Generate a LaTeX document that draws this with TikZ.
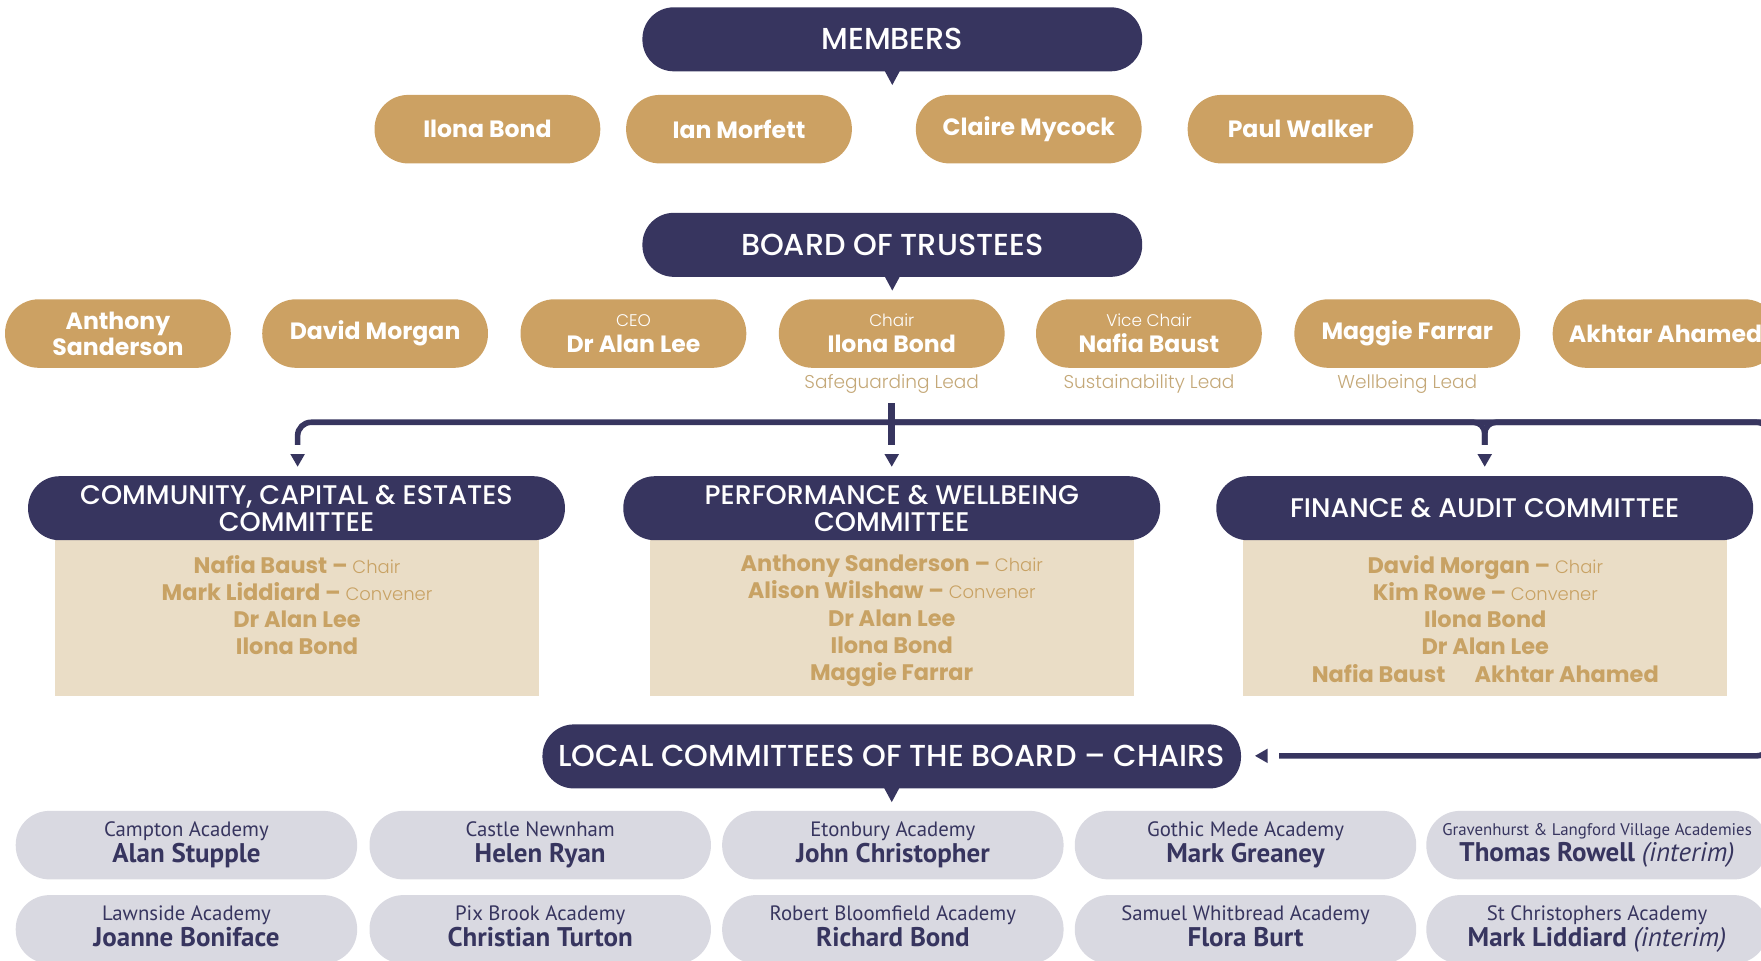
\documentclass[tikz,border=0pt]{standalone}
\usepackage{fontspec}
\setmainfont{Poppins}
\newfontfamily\lightfont{Poppins Light}
\newfontfamily\medfont{Poppins Medium}
\newfontfamily\narrowfont{PT Sans}
\usetikzlibrary{shapes.geometric}
\definecolor{navy}{RGB}{55,53,95}
\definecolor{gold}{RGB}{204,161,99}
\definecolor{beige}{RGB}{234,221,198}
\definecolor{greypill}{RGB}{217,217,225}
\definecolor{goldtext}{RGB}{200,162,100}
\definecolor{leadtext}{RGB}{196,168,120}
\newcommand{\role}[1]{{\mdseries\lightfont\fontsize{15}{23}\selectfont #1}}
\newcommand{\post}[1]{{\mdseries\lightfont\fontsize{16}{24.3}\selectfont #1}}
\newcommand{\chairname}[1]{{\bfseries\fontsize{24}{23}\selectfont #1\vphantom{()}}}
\newcommand{\interim}{{\mdseries\itshape (interim)}}

\begin{document}
\begin{tikzpicture}[x=1pt,y=-1pt,
  head_style/.style={fill=navy, text=white, rounded corners=28pt, minimum width=445pt, minimum height=57pt, inner sep=0pt, align=center, font=\medfont\fontsize{27}{24}\selectfont},
  name_style/.style={fill=gold, text=white, rounded corners=30pt, minimum width=201pt, minimum height=61pt, inner sep=0pt, align=center, font=\bfseries\fontsize{21}{23}\selectfont},
  role_style/.style={text=leadtext, font=\lightfont\fontsize{16.5}{16}\selectfont},
  box_style/.style={fill=beige, minimum width=431pt, minimum height=150pt, inner sep=0pt},
  list_style/.style={anchor=north, text=goldtext, align=center, inner sep=0pt, font=\bfseries\fontsize{20}{24.3}\selectfont},
  local_style/.style={fill=greypill, text=navy, rounded corners=30pt, minimum width=304pt, minimum height=61pt, inner sep=0pt, align=center, font=\narrowfont\fontsize{18.5}{23}\selectfont},
  arrow_style/.style={regular polygon, regular polygon sides=3, fill=navy, inner sep=0pt, minimum size=15pt},
  edge_style/.style={draw=navy, line width=5pt}]
  \useasboundingbox (0,0) rectangle (1568,855);
  \node[head_style] (mem) at (794.5,35) {MEMBERS};
  \node[name_style] (m1) at (434,115) {Ilona Bond};
  \node[name_style] (m2) at (658,115) {Ian Morfett};
  \node[name_style] (m3) at (916,115) {Claire Mycock};
  \node[name_style] (m4) at (1158,115) {Paul Walker};
  \node[head_style] (bot) at (794.5,218) {BOARD OF TRUSTEES};
  \node[name_style] (t1) at (105,297) {Anthony\\Sanderson};
  \node[name_style] (t2) at (334,297) {David Morgan};
  \node[name_style] (t3) at (564,297) {\role{CEO}\\Dr Alan Lee};
  \node[name_style] (t4) at (794,297) {\role{Chair}\\Ilona Bond};
  \node[name_style] (t5) at (1023,297) {\role{Vice Chair}\\Nafia Baust};
  \node[name_style] (t6) at (1253,297) {Maggie Farrar};
  \node[name_style] (t7) at (1483,297) {Akhtar Ahamed};
  \node[role_style] (r4) at (794,342) {Safeguarding Lead};
  \node[role_style] (r5) at (1023,342) {Sustainability Lead};
  \node[role_style] (r6) at (1253,342) {Wellbeing Lead};
  \node[box_style] (b1) at (264.5,545) {};
  \node[box_style] (b2) at (794,545) {};
  \node[box_style] (b3) at (1322.5,545) {};
  \node[head_style, minimum width=478pt, font=\medfont\fontsize{24}{24}\selectfont] (c1) at (264,452.5) {COMMUNITY, CAPITAL \& ESTATES\\COMMITTEE};
  \node[head_style, minimum width=478pt, font=\medfont\fontsize{24}{24}\selectfont] (c2) at (794,452.5) {PERFORMANCE \& WELLBEING\\COMMITTEE};
  \node[head_style, minimum width=478pt, font=\medfont\fontsize{24}{24}\selectfont] (c3) at (1322,452.5) {FINANCE \& AUDIT COMMITTEE};
  \node[list_style] (l1) at (264.5,494) {Nafia Baust – \post{Chair}\\Mark Liddiard – \post{Convener}\\Dr Alan Lee\\Ilona Bond};
  \node[list_style] (l2) at (794,494) {Anthony Sanderson – \post{Chair}\\Alison Wilshaw – \post{Convener}\\Dr Alan Lee\\Ilona Bond\\Maggie Farrar};
  \node[list_style] (l3) at (1322.5,494) {David Morgan – \post{Chair}\\Kim Rowe – \post{Convener}\\Ilona Bond\\Dr Alan Lee\\Nafia Baust\hspace{26pt}Akhtar Ahamed};
  \node[head_style, minimum width=622pt] (loc) at (794,673.5) {LOCAL COMMITTEES OF THE BOARD – CHAIRS};
  \node[local_style] (s1) at (166,752.5) {Campton Academy\\\chairname{Alan Stupple}};
  \node[local_style] (s2) at (481,752.5) {Castle Newnham\\\chairname{Helen Ryan}};
  \node[local_style] (s3) at (795,752.5) {Etonbury Academy\\\chairname{John Christopher}};
  \node[local_style] (s4) at (1109,752.5) {Gothic Mede Academy\\\chairname{Mark Greaney}};
  \node[local_style] (s5) at (1422,752.5) {{\fontsize{15}{23}\selectfont Gravenhurst \& Langford Village Academies}\\\chairname{Thomas Rowell \interim}};
  \node[local_style] (s6) at (166,827.5) {Lawnside Academy\\\chairname{Joanne Boniface}};
  \node[local_style] (s7) at (481,827.5) {Pix Brook Academy\\\chairname{Christian Turton}};
  \node[local_style] (s8) at (795,827.5) {Robert Bloomfield Academy\\\chairname{Richard Bond}};
  \node[local_style] (s9) at (1109,827.5) {Samuel Whitbread Academy\\\chairname{Flora Burt}};
  \node[local_style] (s10) at (1422,827.5) {St Christophers Academy\\\chairname{Mark Liddiard \interim}};
  \foreach \n in {mem,bot,loc}
    \fill[navy] ([xshift=-7pt,yshift=1pt]\n.south) -- ([xshift=7pt,yshift=1pt]\n.south) -- ([yshift=-12pt]\n.south) -- cycle;
  \coordinate (j) at (794,376);
  \coordinate (e1) at (1576,376);
  \coordinate (e2) at (1576,673);
  \node[arrow_style, shape border rotate=180] (a1) at (265,408) {};
  \node[arrow_style, shape border rotate=180] (a2) at (794,408) {};
  \node[arrow_style, shape border rotate=180] (a3) at (1322,408) {};
  \node[arrow_style, shape border rotate=90] (a4) at (1125,673) {};
  \draw[edge_style, rounded corners=12pt, shorten >=8pt] (j) -| (a1);
  \draw[edge_style, rounded corners=10pt, shorten >=8pt] (j) -| (a3);
  \draw[edge_style, rounded corners=10pt, shorten >=8pt] (e1) -| (a3);
  \draw[edge_style, rounded corners=12pt, shorten >=10pt] (j) -- (e1) -- (e2) -- (a4);
  \draw[edge_style, line width=6pt, shorten >=8pt] ([yshift=-5pt]r4.south) -- (a2);
\end{tikzpicture}
\end{document}
